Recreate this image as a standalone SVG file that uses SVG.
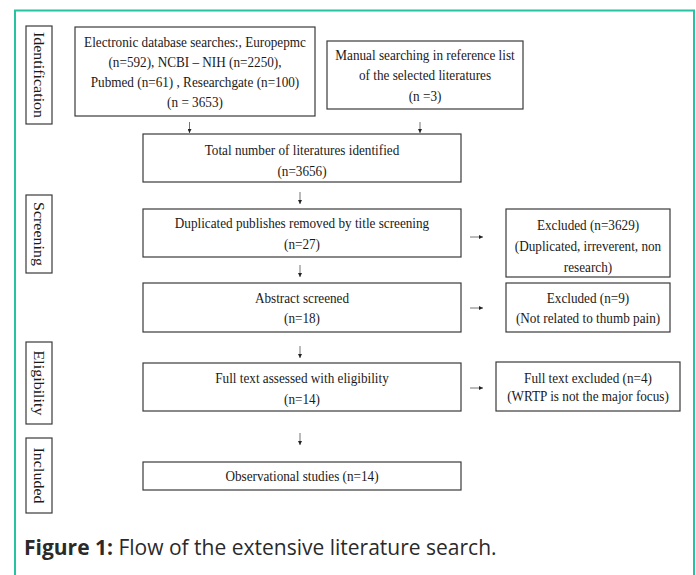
<svg xmlns="http://www.w3.org/2000/svg" width="696" height="575" viewBox="0 0 696 575">
<defs>
<marker id="ah" markerWidth="4" markerHeight="4" refX="4" refY="2" orient="auto" markerUnits="userSpaceOnUse"><path d="M0,0 L4,2 L0,4 z" fill="#222"/></marker>
<style>
.box{fill:#fff;stroke:#3a3a3a;stroke-width:1.2}
.t{font-family:"Liberation Serif","Times New Roman",serif;font-size:15px;fill:#1a1a1a;text-anchor:middle}
.lab{font-family:"Liberation Serif","Times New Roman",serif;font-size:16px;fill:#1a1a1a;text-anchor:middle}
.con{stroke:#666;stroke-width:0.9;fill:none;marker-end:url(#ah)}
.cap{font-family:"Open Sans","Noto Sans",sans-serif;font-size:21px;fill:#2a2a2a}
</style>
</defs>
<rect x="0" y="0" width="696" height="575" fill="#fff"/>
<rect x="15" y="10.5" width="679" height="620" fill="#fff" stroke="#27c2a2" stroke-width="2"/>

<g id="label-identification">
<rect class="box" x="26" y="26" width="26" height="98"/>
<text class="lab" transform="translate(34,75) scale(0.88 1) rotate(90)">Identification</text>
</g>
<g id="label-screening">
<rect class="box" x="26" y="195" width="26" height="78"/>
<text class="lab" transform="translate(34,234) scale(0.88 1) rotate(90)">Screening</text>
</g>
<g id="label-eligibility">
<rect class="box" x="26" y="342" width="26" height="82"/>
<text class="lab" transform="translate(34,383) scale(0.88 1) rotate(90)">Eligibility</text>
</g>
<g id="label-included">
<rect class="box" x="26" y="438" width="26" height="75"/>
<text class="lab" transform="translate(34,475.5) scale(0.88 1) rotate(90)">Included</text>
</g>

<g id="electronic">
<rect class="box" x="75" y="27" width="240" height="89"/>
<g transform="scale(0.88 1)">
<text class="t" x="221.6" y="47">Electronic database searches:, Europepmc</text>
<text class="t" x="221.6" y="67">(n=592), NCBI – NIH (n=2250),</text>
<text class="t" x="221.6" y="87">Pubmed (n=61) , Researchgate (n=100)</text>
<text class="t" x="221.6" y="107">(n = 3653)</text>
</g>
</g>

<g id="manual">
<rect class="box" x="327" y="41" width="196" height="68"/>
<g transform="scale(0.88 1)">
<text class="t" x="483" y="60">Manual  searching  in  reference  list</text>
<text class="t" x="483" y="80.5">of the selected literatures</text>
<text class="t" x="483" y="101">(n =3)</text>
</g>
</g>

<g id="total">
<rect class="box" x="143" y="134" width="318" height="48"/>
<g transform="scale(0.88 1)">
<text class="t" x="343.2" y="155">Total number  of literatures identified</text>
<text class="t" x="343.2" y="176">(n=3656)</text>
</g>
</g>

<g id="duplicated">
<rect class="box" x="143" y="209" width="318" height="48"/>
<g transform="scale(0.88 1)">
<text class="t" x="343.2" y="228">Duplicated publishes removed by title screening</text>
<text class="t" x="343.2" y="249">(n=27)</text>
</g>
</g>

<g id="excluded-1">
<rect class="box" x="506" y="209" width="164" height="68"/>
<g transform="scale(0.88 1)">
<text class="t" x="668.2" y="230">Excluded  (n=3629)</text>
<text class="t" x="668.2" y="251">(Duplicated,  irreverent,  non</text>
<text class="t" x="668.2" y="272">research)</text>
</g>
</g>

<g id="abstract">
<rect class="box" x="143" y="283" width="318" height="49"/>
<g transform="scale(0.88 1)">
<text class="t" x="343.2" y="303">Abstract screened</text>
<text class="t" x="343.2" y="323">(n=18)</text>
</g>
</g>

<g id="excluded-2">
<rect class="box" x="506" y="283" width="164" height="49"/>
<g transform="scale(0.88 1)">
<text class="t" x="668.2" y="303">Excluded  (n=9)</text>
<text class="t" x="668.2" y="323">(Not related to thumb  pain)</text>
</g>
</g>

<g id="fulltext">
<rect class="box" x="143" y="363" width="318" height="48"/>
<g transform="scale(0.88 1)">
<text class="t" x="343.2" y="383">Full text assessed with eligibility</text>
<text class="t" x="343.2" y="404">(n=14)</text>
</g>
</g>

<g id="fulltext-excluded">
<rect class="box" x="496" y="362" width="184" height="49"/>
<g transform="scale(0.88 1)">
<text class="t" x="668.2" y="383">Full text excluded  (n=4)</text>
<text class="t" x="668.2" y="401">(WRTP is not the major focus)</text>
</g>
</g>

<g id="observational">
<rect class="box" x="143" y="462" width="318" height="28"/>
<g transform="scale(0.88 1)">
<text class="t" x="343.2" y="481">Observational studies (n=14)</text>
</g>
</g>

<g id="connectors">
<path class="con" d="M189.5,122 V133"/>
<path class="con" d="M420,122 V133"/>
<path class="con" d="M300,192 V204"/>
<path class="con" d="M300,265 V277"/>
<path class="con" d="M300,346 V358"/>
<path class="con" d="M300,433 V445"/>
<path class="con" d="M470,237 H483"/>
<path class="con" d="M470,308 H483"/>
<path class="con" d="M470,388 H483"/>
</g>

<g id="caption">
<text class="cap" x="24" y="555"><tspan font-weight="bold">Figure 1:</tspan> Flow of the extensive literature search.</text>
</g>
</svg>
